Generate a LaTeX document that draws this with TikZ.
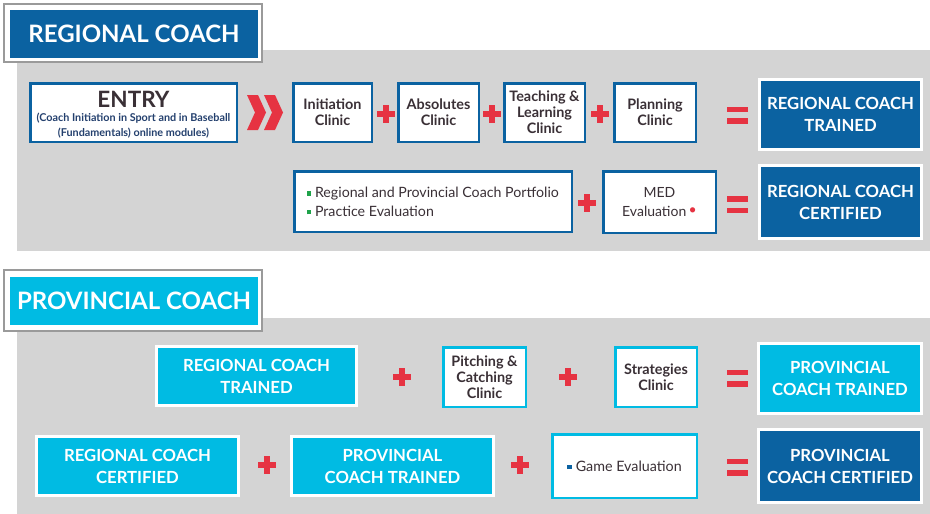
\documentclass[tikz,border=0pt]{standalone}
\usepackage{fontspec}
\setmainfont{Lato}
\definecolor{dblue}{HTML}{0B62A1}
\definecolor{lcyan}{HTML}{00BBE3}
\definecolor{panelgray}{HTML}{D4D4D4}
\definecolor{hdrgray}{HTML}{9A9A9A}
\definecolor{signred}{HTML}{E63342}
\definecolor{txtdark}{HTML}{3A3036}
\definecolor{subblue}{HTML}{24406E}
\definecolor{bulgreen}{HTML}{1FA34A}
\newcommand{\sqbullet}[1]{\raisebox{2pt}{\textcolor{#1}{\rule{4.5pt}{4.5pt}}}\hspace{4pt}}
\begin{document}
\begin{tikzpicture}[x=1pt,y=-1pt,
  hdr/.style={text=white, font=\fontsize{24}{24}\selectfont\bfseries, inner sep=0pt,
    minimum width=248pt, minimum height=48pt},
  wbox/.style={draw=dblue, line width=2.5pt, fill=white, align=center, inner sep=0pt,
    text=txtdark, font=\fontsize{14.4}{16}\selectfont\bfseries},
  cbox/.style={wbox, draw=lcyan},
  resbox/.style={draw=white, line width=3pt, fill=dblue, align=center, inner sep=0pt,
    text=white, font=\fontsize{16.7}{22}\selectfont\bfseries},
  cresbox/.style={resbox, fill=lcyan},
  plainlist/.style={font=\fontsize{14.2}{18.5}\selectfont, text=txtdark, align=left},
  pics/plussign/.style={code={
    \fill[signred] (-9,-2.6) rectangle (9,2.6);
    \fill[signred] (-2.6,-9) rectangle (2.6,9);}},
  pics/eqsign/.style={code={
    \fill[signred] (-10.5,-8.5) rectangle (10.5,-3);
    \fill[signred] (-10.5,3) rectangle (10.5,8.5);}}
]
\useasboundingbox (0,0) rectangle (930,514);
\fill[white] (0,0) rectangle (930,514);

% grey panels behind each level
\fill[panelgray] (17,50) rectangle (930,251);
\fill[panelgray] (17,318) rectangle (930,514);

% level headers
\draw[hdrgray, line width=2.5pt, fill=white] (4,4) rectangle (262,62);
\node[hdr, fill=dblue] (hdrRegional) at (134,34) {REGIONAL COACH};
\draw[hdrgray, line width=2.5pt, fill=white] (4,270) rectangle (262,331);
\node[hdr, fill=lcyan] (hdrProvincial) at (134,301) {PROVINCIAL COACH};

% ---- Regional coach, trained ----
\node[wbox, minimum width=206.5pt, minimum height=58.5pt] (entry) at (133.5,112.5) {};
\node[font=\fontsize{22.5}{22.5}\selectfont\bfseries, text=txtdark, inner sep=0pt] (entryTitle) at (133.5,99) {ENTRY};
\node[font=\fontsize{10.8}{15}\selectfont\bfseries, text=subblue, align=center, inner sep=0pt] (entryNote) at (133.5,126)
  {(Coach Initiation in Sport and in Baseball\\(Fundamentals) online modules)};
\fill[signred] (247,95) -- (258,95) -- (266,112.5) -- (258,130) -- (247,130) -- (255,112.5) -- cycle;
\fill[signred] (264,95) -- (275,95) -- (283,112.5) -- (275,130) -- (264,130) -- (272,112.5) -- cycle;
\node[wbox, minimum width=78.5pt, minimum height=58.5pt] (initiation) at (332.5,112.5) {Initiation\\Clinic};
\pic at (386,114) {plussign};
\node[wbox, minimum width=80.5pt, minimum height=58.5pt] (absolutes) at (438.5,112.5) {Absolutes\\Clinic};
\pic at (492,114) {plussign};
\node[wbox, minimum width=80.5pt, minimum height=58.5pt] (teaching) at (544.5,112.5) {Teaching \&\\Learning\\Clinic};
\pic at (600,114) {plussign};
\node[wbox, minimum width=81.5pt, minimum height=58.5pt] (planning) at (655,112.5) {Planning\\Clinic};
\pic at (737.5,115) {eqsign};
\node[resbox, minimum width=162pt, minimum height=70pt] (rcTrained) at (840.5,114.5) {REGIONAL COACH\\TRAINED};

% ---- Regional coach, certified ----
\node[wbox, minimum width=277.5pt, minimum height=60.5pt] (portfolio) at (433,201.5) {};
\node[plainlist, anchor=west] (portfolioText) at (303,202)
  {\sqbullet{bulgreen}Regional and Provincial Coach Portfolio\\\sqbullet{bulgreen}Practice Evaluation};
\pic at (587,203) {plussign};
\node[wbox, minimum width=112.5pt, minimum height=61.5pt, font=\fontsize{14}{18.5}\selectfont] (med) at (659.5,202)
  {MED\\Evaluation\,\raisebox{1.5pt}{\textcolor{signred}{\textbullet}}};
\pic at (737.5,204.5) {eqsign};
\node[resbox, minimum width=162pt, minimum height=73pt] (rcCertified) at (840.5,202) {REGIONAL COACH\\CERTIFIED};

% ---- Provincial coach, trained ----
\node[cresbox, minimum width=200pt, minimum height=59pt] (pRcTrained) at (256.5,376) {REGIONAL COACH\\TRAINED};
\pic at (402,377) {plussign};
\node[cbox, minimum width=82.5pt, minimum height=59.5pt] (pitching) at (484.5,377) {Pitching \&\\Catching\\Clinic};
\pic at (568,377) {plussign};
\node[cbox, minimum width=81.5pt, minimum height=59.5pt] (strategies) at (656,377) {Strategies\\Clinic};
\pic at (737,378) {eqsign};
\node[cresbox, minimum width=163pt, minimum height=70pt] (pcTrained) at (840,378.5) {PROVINCIAL\\COACH TRAINED};

% ---- Provincial coach, certified ----
\node[cresbox, minimum width=202pt, minimum height=59pt] (pRcCertified) at (137.5,466) {REGIONAL COACH\\CERTIFIED};
\pic at (267,465) {plussign};
\node[cresbox, minimum width=202pt, minimum height=59pt] (pPcTrained) at (392.5,466) {PROVINCIAL\\COACH TRAINED};
\pic at (520,465) {plussign};
\node[cbox, minimum width=144.5pt, minimum height=63.5pt, font=\fontsize{14.3}{18}\selectfont] (game) at (624.5,466)
  {\sqbullet{dblue}Game Evaluation};
\pic at (737,467) {eqsign};
\node[resbox, minimum width=163pt, minimum height=73pt] (pcCertified) at (840,466) {PROVINCIAL\\COACH CERTIFIED};
\end{tikzpicture}
\end{document}
